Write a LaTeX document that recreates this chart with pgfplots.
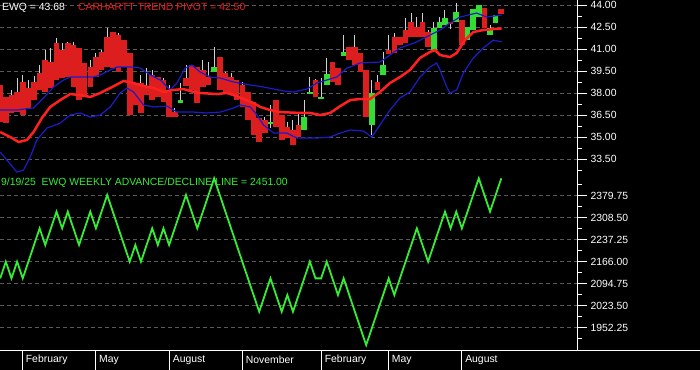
\documentclass[border=0pt]{standalone}
\usepackage{pgfplots}
\pgfplotsset{compat=1.18}
\usepackage{pgfplotstable}
\usepackage{fontspec}
\setmainfont{Liberation Sans}
\definecolor{candred}{HTML}{DC1E1E}
\definecolor{candgreen}{HTML}{33DD33}
\definecolor{wickc}{HTML}{D0D0D0}
\definecolor{pivotred}{HTML}{FF2020}
\definecolor{bandblue}{HTML}{1C1CC8}
\definecolor{adgreen}{HTML}{33EE33}
\definecolor{gridc}{HTML}{5A5A5A}
\definecolor{titlered}{HTML}{E82020}

\pgfplotstableread{
w hi top bot lo
0 38.57 38.57 36.04 36.04
1 37.75 37.75 35.97 35.97
2 38.23 37.88 36.66 36.66
3 39.04 38.09 36.72 36.72
4 39.25 38.77 36.52 36.52
5 38.91 38.36 37.00 37.00
6 39.18 38.77 37.54 37.54
7 39.93 39.38 38.23 38.23
8 40.95 40.27 38.09 38.09
9 41.09 40.13 38.36 38.36
10 41.77 41.43 38.91 38.91
11 41.43 40.95 39.04 39.04
12 41.50 41.43 39.11 39.11
13 41.50 41.29 38.43 38.43
14 41.09 41.09 37.54 37.54
15 40.07 40.07 37.75 37.75
16 40.27 39.79 38.43 38.43
17 40.75 40.47 39.11 39.11
18 40.95 40.82 39.59 39.59
19 42.45 41.84 39.79 39.79
20 42.18 42.18 39.72 39.72
21 42.11 41.97 39.45 39.45
22 41.63 41.63 39.79 39.79
23 40.75 40.75 36.52 36.52
24 38.70 38.70 37.20 37.20
25 39.25 38.70 36.66 36.66
26 39.72 38.43 37.88 37.88
27 39.59 39.25 37.54 37.54
28 39.11 39.11 37.75 37.75
29 39.04 38.91 37.41 37.41
30 38.57 38.09 36.38 36.38
31 37.00 36.72 36.38 36.38
33 39.93 39.04 38.50 38.50
34 39.93 39.93 38.23 38.23
35 39.79 39.79 37.34 37.34
36 40.27 39.59 38.43 38.43
37 40.13 39.11 38.57 38.57
39 40.47 40.47 38.23 38.23
40 39.45 39.38 38.02 38.02
41 39.38 39.11 37.88 37.88
42 38.91 38.91 37.54 37.54
43 38.77 38.57 37.07 37.07
44 38.09 38.09 36.18 36.18
45 37.41 37.41 35.16 35.16
46 36.32 36.32 34.68 34.68
47 36.38 36.18 35.29 35.29
49 37.54 37.54 35.70 35.70
50 36.52 36.52 34.82 34.82
51 36.04 35.70 34.95 34.95
52 36.18 35.50 34.48 34.48
53 36.66 35.84 35.02 35.02
56 38.97 38.91 37.75 37.75
59 40.13 40.13 38.77 38.77
60 39.72 39.72 38.57 38.57
62 41.16 41.16 40.27 40.27
63 41.97 41.16 39.93 39.93
64 40.75 40.75 39.45 39.45
65 39.59 39.59 36.38 36.38
67 39.25 38.77 38.23 38.23
69 41.97 40.95 40.68 40.68
70 42.11 41.84 40.75 40.75
71 41.84 41.84 41.29 41.29
72 43.13 42.31 41.43 41.43
73 43.47 42.86 41.84 41.84
74 43.20 42.52 41.84 41.84
75 43.47 42.86 41.84 41.84
76 42.31 42.18 41.16 41.16
80 42.86 42.86 42.72 42.38
82 43.00 43.00 41.29 41.29
86 43.81 43.81 42.45 42.45
89 43.75 43.75 43.41 43.41
}\redtab

\pgfplotstableread{
w hi top bot lo
32 38.70 37.54 37.34 37.34
38 41.16 39.79 39.45 39.45
48 37.20 36.04 35.90 35.63
54 37.54 36.38 35.50 35.50
55 39.11 38.09 37.95 37.95
57 39.04 37.75 37.61 37.61
58 40.41 39.32 38.57 38.57
61 41.97 40.82 40.54 40.54
66 38.91 38.02 35.84 35.16
68 40.82 39.93 39.25 39.25
77 42.86 42.45 40.95 40.95
78 43.20 42.86 42.45 42.45
79 43.68 43.13 42.66 42.66
81 44.16 43.54 42.86 42.86
83 42.52 42.52 41.63 41.63
84 43.75 43.75 42.31 42.31
85 44.02 44.02 43.20 43.20
87 42.66 42.45 41.97 41.97
88 43.34 43.34 42.79 42.79
}\greentab

\pgfplotstableread{
w v
0 35.36
1.78 35.02
3.26 34.68
4.74 34.82
5.92 35.36
7.40 36.32
8.88 37.07
10.66 37.54
12.43 37.95
14.21 37.88
15.99 37.75
17.76 38.02
19.54 38.36
21.91 38.84
23.68 38.70
25.46 38.50
27.24 38.36
29.01 38.09
30.79 38.23
32.56 38.29
34.34 38.09
35.52 38.02
38.48 37.95
40.26 38.02
41.44 37.88
43.22 37.61
45.00 37.34
46.18 37.07
47.96 36.86
49.73 36.72
51.51 36.69
53.29 36.66
55.06 36.66
56.84 36.52
58.61 36.66
60.39 37.13
62.17 37.54
63.91 37.61
65.68 37.61
67.46 38.09
69.23 38.70
71.01 39.11
72.79 39.59
74.56 40.41
76.34 40.82
77.23 40.95
78.12 40.61
79.89 40.47
81.08 40.75
82.56 41.63
84.04 42.18
85.81 42.31
87.59 42.38
89.07 42.42
}\pivottab

\pgfplotstableread{
w v
0 36.86
2.96 36.86
5.92 37.00
7.70 37.68
9.47 38.43
11.25 38.91
12.43 39.11
16.58 39.11
17.76 39.25
19.54 39.59
20.72 39.79
23.68 39.79
24.87 39.72
26.64 39.25
28.42 38.91
30.20 38.23
31.38 38.70
32.86 39.72
34.04 39.93
35.52 39.45
37.30 39.11
39.08 39.04
41.44 38.77
44.41 38.57
46.77 38.43
48.55 38.29
50.33 38.16
52.10 38.09
54.47 38.29
56.25 38.70
58.02 38.91
59.80 39.11
61.57 39.72
62.13 39.79
63.91 40.07
67.46 40.13
69.23 40.61
71.01 41.09
73.97 41.50
76.34 41.97
78.12 42.31
79.89 42.79
81.67 43.20
84.63 43.47
86.40 43.20
89.07 43.34
}\uppertab

\pgfplotstableread{
w v
0 34.00
1.18 33.45
2.96 32.63
4.14 32.77
5.33 33.66
6.51 34.82
8.29 35.63
10.66 35.97
12.43 36.52
14.21 36.66
15.99 36.38
17.76 36.52
19.54 37.07
21.31 38.02
22.50 38.36
23.68 38.09
25.46 37.20
27.24 37.07
29.60 37.13
31.38 36.72
34.34 36.72
36.71 36.66
39.08 36.72
41.44 37.00
42.63 37.20
44.41 37.07
45.59 36.52
46.77 35.84
48.55 35.29
50.92 35.29
52.69 34.95
56.25 34.95
58.61 35.02
60.39 35.29
62.17 35.50
64.50 35.43
65.98 35.02
67.46 35.84
69.23 36.86
71.01 37.68
72.79 38.09
74.56 39.11
76.34 39.79
77.52 40.07
78.12 39.59
79.30 38.43
79.89 38.02
81.08 38.23
82.26 39.38
84.04 40.41
85.81 41.09
87.59 41.63
89.07 41.50
}\lowertab

\pgfplotstableread{
w v
0 2112
1 2166
2 2112
3 2166
4 2112
5 2166
6 2220
7 2274
8 2220
9 2274
10 2328
11 2274
12 2328
13 2274
14 2220
15 2274
16 2328
17 2274
18 2328
19 2382
20 2328
21 2274
22 2220
23 2166
24 2220
25 2166
26 2220
27 2274
28 2220
29 2274
30 2220
31 2274
32 2328
33 2382
34 2328
35 2274
36 2328
37 2382
38 2436
39 2382
40 2328
41 2274
42 2220
43 2166
44 2112
45 2058
46 2004
47 2058
48 2112
49 2058
50 2004
51 2058
52 2004
53 2058
54 2112
55 2166
56 2112
57 2112
58 2166
59 2112
60 2058
61 2112
62 2058
63 2004
64 1950
65 1896
66 1950
67 2004
68 2058
69 2112
70 2058
71 2112
72 2166
73 2220
74 2274
75 2220
76 2166
77 2220
78 2274
79 2328
80 2274
81 2328
82 2274
83 2328
84 2382
85 2436
86 2382
87 2328
88 2382
89 2436
}\adtab

\tikzset{lbl/.style={font=\fontsize{10.4bp}{12bp}\selectfont}}
\pgfplotsset{
  panel/.style={
    scale only axis, width=577bp, xmin=-0.04, xmax=102.45,
    axis x line=none, axis y line*=right,
    axis line style={white, line width=0.9bp},
    ytick align=outside, major tick length=10bp, minor tick length=5bp,
    tick style={white, line width=0.9bp},
    yticklabel style={white, lbl},
    ymajorgrids,
    major grid style={gridc, dash pattern=on 4bp off 3bp, line width=0.8bp},
    clip=true,
    /pgf/number format/.cd, fixed, fixed zerofill, precision=2, 1000 sep={}, assume math mode=true
  },
  wick/.style={draw=none, mark=none, forget plot,
    error bars/.cd, y dir=plus, y explicit, error mark=none,
    error bar style={draw=wickc, solid, line width=1bp}},
  body/.style={draw=none, mark=none, forget plot,
    error bars/.cd, y dir=plus, y explicit, error mark=none,
    error bar style={draw=#1, solid, line width=5.6bp}}
}

\begin{document}
\begin{tikzpicture}
\useasboundingbox (0,0) rectangle (700bp,-370bp);
\fill[black] (0,0) rectangle (700bp,-370bp);

% ---------- top panel ----------
\begin{axis}[panel, at={(0bp,0bp)}, anchor=north west, height=174bp,
  ymin=32.5, ymax=44.36,
  ytick={33.5,35,36.5,38,39.5,41,42.5,44},
  minor ytick={32.75,34.25,35.75,37.25,38.75,40.25,41.75,43.25}]
\addplot[wick] table[x=w, y=lo, y error plus expr=\thisrow{hi}-\thisrow{lo}] {\redtab};
\addplot[wick] table[x=w, y=lo, y error plus expr=\thisrow{hi}-\thisrow{lo}] {\greentab};
\addplot[body=candred] table[x=w, y=bot, y error plus expr=\thisrow{top}-\thisrow{bot}] {\redtab};
\addplot[body=candgreen] table[x=w, y=bot, y error plus expr=\thisrow{top}-\thisrow{bot}] {\greentab};
\addplot[bandblue, line width=1.2bp, mark=none] table[x=w, y=v] {\uppertab};
\addplot[bandblue, line width=1.2bp, mark=none] table[x=w, y=v] {\lowertab};
\addplot[pivotred, line width=2.5bp, mark=none] table[x=w, y=v] {\pivottab};
\end{axis}

% ---------- bottom panel ----------
\begin{axis}[panel, at={(0bp,-174bp)}, anchor=north west, height=176bp,
  ymin=1880, ymax=2450,
  ytick={1952.25,2023.5,2094.75,2166,2237.25,2308.5,2379.75},
  minor ytick={1916.625,1987.875,2059.125,2130.375,2201.625,2272.875,2344.125,2415.375}]
\addplot[adgreen, line width=1.8bp, mark=none] table[x=w, y=v] {\adtab};
\end{axis}

% ---------- month strip ----------
\begin{axis}[at={(0bp,-350bp)}, anchor=north west, scale only axis,
  width=700bp, height=20bp, xmin=-0.04, xmax=124.29, ymin=0, ymax=1,
  axis line style={draw=none}, ytick=\empty,
  xtick={3.93,16.96,30.04,43.0,57.03,68.94,81.97},
  xticklabels={February,May,August,November,February,May,August},
  major tick length=0pt, xtick pos=left,
  xmajorgrids, major grid style={white, solid, line width=1bp},
  xticklabel style={white, lbl, anchor=west, yshift=10bp}]
\end{axis}

\draw[white, line width=1bp] (0bp,-350bp) -- (700bp,-350bp);

\node[lbl, anchor=base west, inner sep=0, white] at (2bp,-10bp) {EWQ = 43.68};
\node[lbl, anchor=base west, inner sep=0, titlered] at (78bp,-10bp) {CARHARTT TREND PIVOT = 42.50};
\node[lbl, anchor=base west, inner sep=0, adgreen] at (1bp,-185.5bp) {9/19/25\ \ EWQ WEEKLY ADVANCE/DECLINE LINE = 2451.00};
\end{tikzpicture}
\end{document}
